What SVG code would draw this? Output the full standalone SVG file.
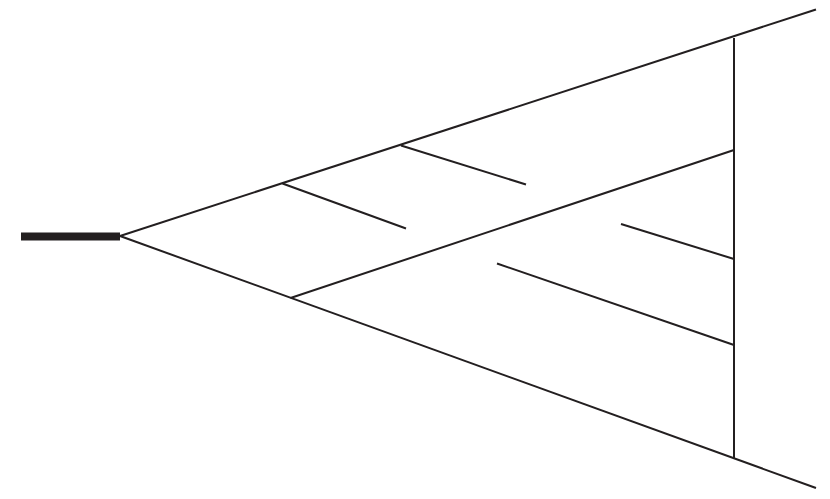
<svg xmlns="http://www.w3.org/2000/svg" width="830" height="499" viewBox="0 0 830 499">
<style>
.l{stroke:#231f20;stroke-width:2;fill:none;stroke-linecap:butt}
.t{stroke:#231f20;stroke-width:8;fill:none}
</style>
<rect width="830" height="499" fill="#ffffff"/>
<g id="connectors">
<line class="t" x1="21" y1="236.5" x2="120" y2="236.5"/>
<line class="l" x1="120" y1="236" x2="816" y2="9.5"/>
<line class="l" x1="120" y1="236" x2="816" y2="488"/>
<line class="l" x1="734" y1="38" x2="734" y2="458"/>
<line class="l" x1="290.5" y1="298" x2="734" y2="150"/>
<line class="l" x1="282.5" y1="183.5" x2="406" y2="228.5"/>
<line class="l" x1="401" y1="145.5" x2="526" y2="184.5"/>
<line class="l" x1="621" y1="224" x2="734" y2="259"/>
<line class="l" x1="497" y1="263.5" x2="734" y2="345"/>
</g>
</svg>
